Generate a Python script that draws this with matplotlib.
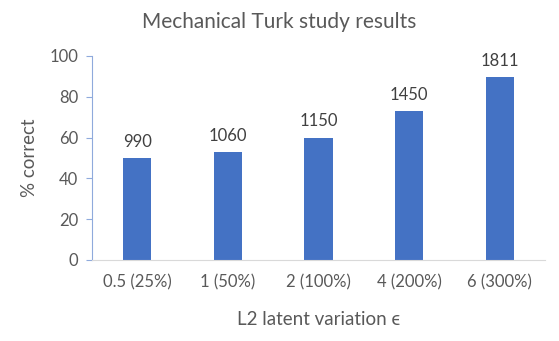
import matplotlib.pyplot as plt

# data
categories = ['0.5 (25%)', '1 (50%)', '2 (100%)', '4 (200%)', '6 (300%)']
pct_correct = [50, 53, 60, 73, 89.5]
n_responses = [990, 1060, 1150, 1450, 1811]

plt.rcParams['font.family'] = ['Lato', 'DejaVu Sans']
grey = '#595959'

fig = plt.figure(figsize=(5.59, 3.41), dpi=100)
ax = fig.add_axes([92 / 559, 1 - 260 / 341, 453 / 559, 204 / 341])

x = range(len(categories))
bars = ax.bar(x, pct_correct, width=0.31, color='#4472C4')

for b, n in zip(bars, n_responses):
    ax.text(b.get_x() + b.get_width() / 2, b.get_height() + 4, str(n),
            ha='center', va='bottom', fontsize=12, color='#404040')

ax.set_xlim(-0.5, len(categories) - 0.5)
ax.set_ylim(0, 100)
ax.set_yticks(range(0, 101, 20))
ax.set_xticks(list(x))
ax.set_xticklabels(categories)
ax.tick_params(axis='x', length=0, pad=10, labelsize=12, labelcolor=grey)
ax.tick_params(axis='y', length=4, width=0.8, color='#8FAADC', pad=6,
               labelsize=12, labelcolor=grey)

for s in ['top', 'right']:
    ax.spines[s].set_visible(False)
ax.spines['left'].set_color('#8FAADC')
ax.spines['bottom'].set_color('#D9D9D9')

ax.set_ylabel('% correct', fontsize=13.5, color=grey, labelpad=8)
ax.set_xlabel('L2 latent variation \u03f5', fontsize=13.5, color=grey, labelpad=15)
fig.text(0.5, 1 - 22 / 341, 'Mechanical Turk study results', ha='center',
         va='center', fontsize=15, color=grey)

fig.savefig('out.png', dpi=100)
